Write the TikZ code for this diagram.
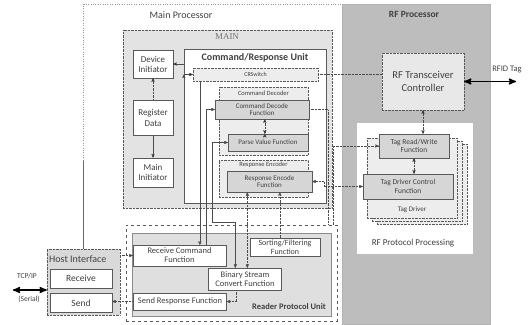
\documentclass[tikz,border=0pt]{standalone}
\usepackage{fontspec}
\setmainfont{Carlito}
\newfontfamily\mainserif{Liberation Serif}
\usetikzlibrary{arrows,positioning}

\begin{document}
\begin{tikzpicture}[x=1pt,y=-1pt,>=stealth',
	box/.style = {draw=black!65, rectangle, inner sep=1pt, align=center, text=black!75},
	wbox/.style = {box, fill=white},
	lbox/.style = {box, fill=gray!14, densely dotted},
	dbox/.style = {box, fill=gray!32},
	sl/.style = {draw=black!70},
	dl/.style = {draw=black!70, densely dotted},
	el/.style = {inner sep=1pt, align=center, text=black!75},
	every node/.append style = {font=\fontsize{7}{7.5}\selectfont}
	]
	\useasboundingbox (0,0) rectangle (530,324);
	
	% RF side
	\node (rfp) [box, fill=gray!52, draw=gray!60, minimum width=148pt, minimum height=320pt] at (416,164) {};
	\node[el, font=\bfseries\fontsize{9.5}{10}\selectfont] (rfptitle) at (414,14) {RF Processor};
	\node (rftc) [lbox, fill=gray!18, minimum width=82pt, minimum height=57pt, font=\fontsize{10.5}{13}\selectfont] at (423,81.5) {RF Transceiver\\Controller};
	\node (rfpp) [box, draw=white, fill=white, minimum width=115pt, minimum height=130pt] at (414.5,188) {};
	\node[el, font=\fontsize{9}{10}\selectfont] (rfpptitle) at (413,243) {RF Protocol Processing};
	\node (tagc) [lbox, minimum width=90pt, minimum height=80pt] at (422,184) {};
	\node (tagb) [lbox, minimum width=90pt, minimum height=80pt] at (417,181) {};
	\node (taga) [lbox, minimum width=90pt, minimum height=80pt] at (412,178) {};
	\node[el] (tagtitle) at (412,210) {Tag Driver};
	\node (tagrw) [dbox, minimum width=70pt, minimum height=24pt, font=\fontsize{7.5}{8.5}\selectfont] at (414,146) {Tag Read/Write\\Function};
	\node (tdc) [dbox, minimum width=90pt, minimum height=25pt, font=\fontsize{7.5}{8.5}\selectfont] at (408,186.5) {Tag Driver Control\\Function};
	\coordinate (rfid) at (516,81.5);
	\node[el, font=\fontsize{8.5}{9}\selectfont] (rfidlabel) at (507,70) {RFID Tag};
	
	% main processor
	\node[el, font=\fontsize{10}{11}\selectfont] (mptitle) at (181,15) {Main Processor};
	\node (main) [box, fill=gray!22, densely dotted, minimum width=209pt, minimum height=178pt] at (227.5,119) {};
	\node[el, text=black!55, font=\mainserif\fontsize{9}{10}\selectfont] (maintitle) at (227,37) {MAIN};
	\node (devinit) [wbox, minimum width=40pt, minimum height=28pt, font=\fontsize{9}{10}\selectfont] at (153,64) {Device\\Initiator};
	\node (regdata) [wbox, below=22pt of devinit, minimum width=40pt, minimum height=35pt, font=\fontsize{9}{11}\selectfont] {Register\\Data};
	\node (maininit) [wbox, below=22pt of regdata, minimum width=40pt, minimum height=29pt, font=\fontsize{9}{10}\selectfont] {Main\\Initiator};
	
	\node (cru) [wbox, minimum width=142pt, minimum height=154pt] at (255,126) {};
	\node[el, font=\bfseries\fontsize{10}{11}\selectfont] (crutitle) at (255,58) {Command/Response Unit};
	\node (crsw) [lbox, minimum width=125pt, minimum height=13pt, font=\fontsize{6}{6}\selectfont] at (255.5,74.5) {CRSwitch};
	\node (cmddec) [lbox, minimum width=89pt, minimum height=68pt] at (263.5,121) {};
	\node[el, font=\fontsize{6.5}{7}\selectfont] (cmddectitle) at (263.5,93) {Command Decoder};
	\node (cdf) [dbox, minimum width=94pt, minimum height=19pt, font=\fontsize{7}{7.5}\selectfont] at (262,109.5) {Command Decode\\Function};
	\node (pvf) [dbox, minimum width=80pt, minimum height=17pt, font=\fontsize{7}{7.5}\selectfont] at (268,142.5) {Parse Value Function};
	\node (respenc) [lbox, minimum width=89pt, minimum height=37pt] at (263.5,178.5) {};
	\node[el, font=\fontsize{6.5}{7}\selectfont] (respenctitle) at (263.5,165) {Response Encoder};
	\node (ref) [dbox, minimum width=85pt, minimum height=21pt, font=\fontsize{7}{7.5}\selectfont] at (269.5,181.5) {Response Encode\\Function};
	
	% reader protocol unit
	\node (rpu) [box, dashed, minimum width=211pt, minimum height=96pt] at (231.5,273) {};
	\node (rpuin) [box, fill=gray!25, draw=black!45, minimum width=199pt, minimum height=83pt] at (231.5,274.5) {};
	\node (rcf) [wbox, minimum width=93pt, minimum height=21pt, font=\fontsize{8.5}{9}\selectfont] at (179.5,255.5) {Receive Command\\Function};
	\node (srf) [wbox, minimum width=93pt, minimum height=17pt, font=\fontsize{8.5}{9}\selectfont] at (180,301.5) {Send Response Function};
	\node (sff) [wbox, minimum width=70pt, minimum height=18pt, font=\fontsize{8}{8.5}\selectfont] at (285,247) {Sorting/Filtering\\Function};
	\node (bsc) [wbox, minimum width=73pt, minimum height=22pt, font=\fontsize{8.5}{9.5}\selectfont] at (245,279) {Binary Stream\\Convert Function};
	\node[el, font=\bfseries\fontsize{8.5}{9}\selectfont] (rputitle) at (289,307) {Reader Protocol Unit};
	
	% host interface
	\node (host) [box, fill=gray!30, densely dotted, minimum width=73pt, minimum height=66pt] at (83.5,282) {};
	\node[el, anchor=west, font=\fontsize{10}{10}\selectfont] (hosttitle) at (48,259) {Host Interface};
	\node (rcv) [wbox, minimum width=62pt, minimum height=19pt, font=\fontsize{9.5}{10}\selectfont] at (81,278.5) {Receive};
	\node (snd) [wbox, below=5pt of rcv, minimum width=62pt, minimum height=19pt, font=\fontsize{9.5}{10}\selectfont] {Send};
	\coordinate (tcp) at (13,290);
	\node[el, font=\fontsize{7.5}{8}\selectfont] (tcplabel) at (27,276) {TCP/IP};
	\node[el, font=\fontsize{7.5}{8}\selectfont] (seriallabel) at (29,299) {(Serial)};
	\coordinate (mpbend) at (83.5,160);
	
	% frame of the main processor
	\draw[draw=black!60] (host.north) -- (mpbend);
	\draw[draw=black!40, dotted] (mpbend) |- (rfp.north west);
	
	\path[->, sl]
	(cru.west |- devinit.east)  edge  (devinit.east)
	(cru.west |- crsw.west)  edge  (crsw.west)
	(regdata)  edge  (maininit);
	\path[<-, dl]
	(devinit)  edge  (regdata);
	\path[<->, dl]
	(rftc.south)  edge  (rftc.south |- tagrw.north)
	(tagrw.south)  edge  (tagrw.south |- tdc.north)
	([xshift=37]pvf.north west)  edge  ([xshift=37]pvf.north west |- cdf.south);
	\path[<->, line width=1.5pt]
	(rftc.east)  edge  (rfid)
	(tcp)  edge  (host.west |- tcp);
	
	\draw[dl] (crsw.east) -- (crsw.east -| rftc.west);
	\draw[->, sl] ([xshift=7]crsw.south west) -- ([xshift=7]crsw.south west |- rcf.north);
	\draw[->, sl] ([xshift=73]rcf.north west) |- (cdf.west);
	\coordinate (pvfbend) at (212,222);
	\draw[<->, sl] (pvf.west) -| (pvfbend) -| ([xshift=27]bsc.north west);
	\draw[<->, dl] ([xshift=39]bsc.north west) -- ([xshift=39]bsc.north west |- ref.south);
	\draw[->, dl] ([xshift=30]sff.north west) -- ([xshift=30]sff.north west |- ref.south);
	\draw[dl] (cdf.east) -| ([xshift=-9]rpu.north east);
	\draw[->, dl] ([xshift=-4]rpu.north east) |- (tagrw.west);
	\draw[<->, dl] (ref.east) -- ++(12,0) |- (tdc.west);
	\draw[->, dl] (host.east |- rcf.west) -- (rcf.west);
	\draw[->, dl] (srf.west) -- (srf.west -| snd.east);
	\draw[->, dl] ([xshift=28]bsc.south west) |- (srf.east);
\end{tikzpicture}
\end{document}
